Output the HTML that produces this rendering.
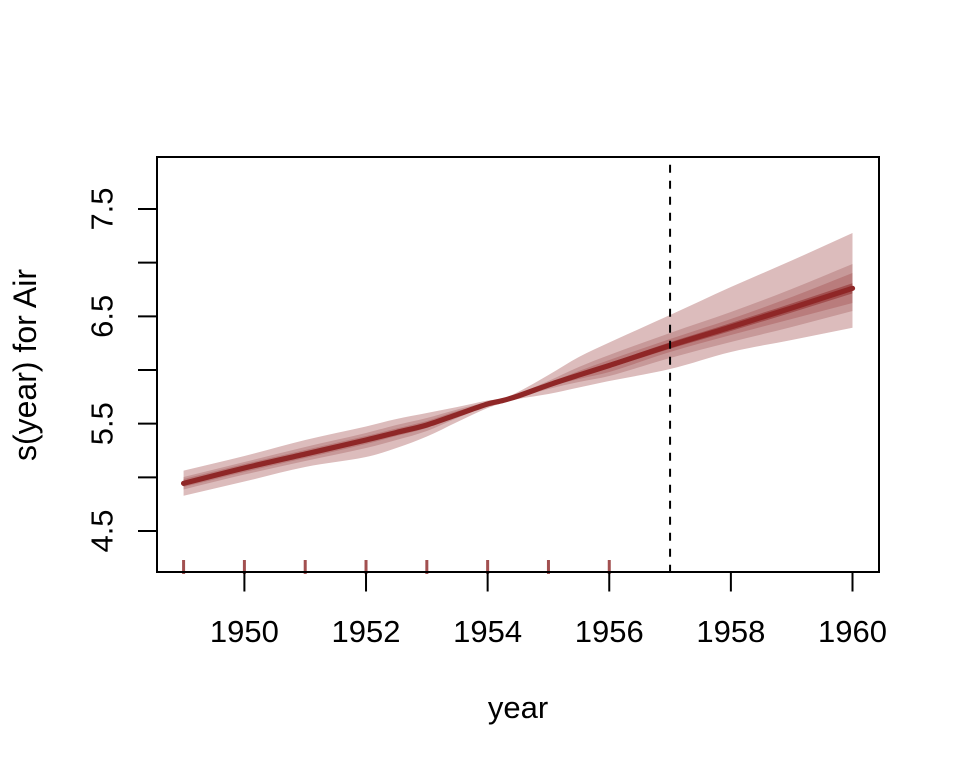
<!DOCTYPE html>
<html lang="en">
<head>
<meta charset="utf-8">
<title>s(year) for Air</title>
<style>
html,body{margin:0;padding:0;background:#fff;width:960px;height:768px;overflow:hidden}
svg{display:block}
text{font-family:"Liberation Sans",Arial,sans-serif;fill:#000}
</style>
</head>
<body>
<svg id="chart" xmlns="http://www.w3.org/2000/svg" width="960" height="768" viewBox="0 0 960 768"></svg>
<script>
const years = [1949,1950,1951,1952,1952.5,1953,1953.5,1954,1954.25,1954.5,1955,1955.5,1956,1957,1958,1959,1960];
const median = [4.944,5.087,5.217,5.348,5.418,5.488,5.585,5.683,5.716,5.758,5.860,5.953,6.042,6.228,6.401,6.578,6.761];
const outerUpper = [5.062,5.199,5.348,5.474,5.543,5.599,5.655,5.716,5.735,5.795,5.953,6.121,6.256,6.512,6.773,7.020,7.276];
const outerLower = [4.829,4.961,5.096,5.189,5.273,5.380,5.516,5.646,5.693,5.730,5.776,5.837,5.898,6.009,6.168,6.280,6.394];
const midUpper = [5.003,5.143,5.283,5.413,5.488,5.553,5.632,5.702,5.725,5.776,5.898,6.028,6.140,6.345,6.540,6.755,6.988];
const midLower = [4.887,5.026,5.152,5.273,5.348,5.432,5.553,5.665,5.702,5.739,5.823,5.888,5.944,6.112,6.261,6.401,6.550];
const innerUpper = [4.984,5.124,5.255,5.385,5.455,5.525,5.618,5.693,5.721,5.767,5.879,5.991,6.093,6.289,6.475,6.680,6.904];
const innerLower = [4.910,5.050,5.180,5.311,5.385,5.460,5.571,5.674,5.707,5.748,5.842,5.916,5.981,6.168,6.326,6.475,6.624];
const coreUpper = [4.962,5.105,5.235,5.366,5.436,5.506,5.603,5.695,5.724,5.766,5.874,5.971,6.065,6.258,6.438,6.620,6.808];
const coreLower = [4.926,5.069,5.199,5.330,5.400,5.470,5.567,5.675,5.708,5.750,5.846,5.935,6.019,6.198,6.364,6.536,6.714];
const rugYears = [1949,1950,1951,1952,1953,1954,1955,1956];
const xTickValues = [1950,1952,1954,1956,1958,1960];
const xTickLabels = ["1950","1952","1954","1956","1958","1960"];
const yTickValues = [4.5,5,5.5,6,6.5,7,7.5];
const yTickLabels = ["4.5","","5.5","","6.5","","7.5"];
const forecastStartYear = 1957;

const svg = document.getElementById('chart');
const NS = 'http://www.w3.org/2000/svg';
const plotLeft = 157, plotRight = 879, plotTop = 157, plotBottom = 572;
function xScale(v){ return 244.4 + (v - 1950) * 60.81; }
function yScale(v){ return 531 - (v - 4.5) * 107.33; }
function make(tag, attrs, parent){
  const el = document.createElementNS(NS, tag);
  for (const k in attrs) el.setAttribute(k, attrs[k]);
  (parent || svg).appendChild(el);
  return el;
}
/* Smooth curve through the data points (Catmull-Rom segments). */
function curve(xs, ys){
  let d = '';
  for (let i = 0; i < xs.length - 1; i++) {
    const x0 = xs[Math.max(i - 1, 0)], y0 = ys[Math.max(i - 1, 0)];
    const x1 = xs[i], y1 = ys[i], x2 = xs[i + 1], y2 = ys[i + 1];
    const x3 = xs[Math.min(i + 2, xs.length - 1)], y3 = ys[Math.min(i + 2, xs.length - 1)];
    const h = x2 - x1;
    const m1 = (y2 - y0) / ((x2 - x0) || 1);
    const m2 = (y3 - y1) / ((x3 - x1) || 1);
    d += ' C' + (x1 + h / 3).toFixed(2) + ' ' + (y1 + m1 * h / 3).toFixed(2) + ' ' +
         (x2 - h / 3).toFixed(2) + ' ' + (y2 - m2 * h / 3).toFixed(2) + ' ' +
         x2.toFixed(2) + ' ' + y2.toFixed(2);
  }
  return d;
}
function linePath(values){
  const xs = years.map(xScale), ys = values.map(yScale);
  return 'M' + xs[0].toFixed(2) + ' ' + ys[0].toFixed(2) + curve(xs, ys);
}
function bandPath(upper, lower){
  const xs = years.map(xScale);
  const top = upper.map(yScale);
  const bottom = lower.map(yScale);
  const rxs = xs.slice().reverse();
  const rbottom = bottom.slice().reverse();
  return 'M' + xs[0].toFixed(2) + ' ' + top[0].toFixed(2) + curve(xs, top) +
         ' L' + rxs[0].toFixed(2) + ' ' + rbottom[0].toFixed(2) + curve(rxs, rbottom) + ' Z';
}

const outerBand = make('path', {d: bandPath(outerUpper, outerLower), fill: '#DCBCBC'});


const midBand = make('path', {d: bandPath(midUpper, midLower), fill: '#C79999'});


const innerBand = make('path', {d: bandPath(innerUpper, innerLower), fill: '#B97C7C'});


const coreBand = make('path', {d: bandPath(coreUpper, coreLower), fill: '#A25050'});



const medianLine = make('path', {
  d: linePath(median),
  fill: 'none', stroke: '#8F2727', 'stroke-width': 5.2, 'stroke-linecap': 'round', 'stroke-linejoin': 'round'
});



rugYears.forEach(y => {
  const rug = make('line', {x1: xScale(y), x2: xScale(y), y1: 560, y2: 574, stroke: '#A25050', 'stroke-width': 3});
  
  
});

const forecastLine = make('line', {
  x1: xScale(forecastStartYear), x2: xScale(forecastStartYear), y1: 572.7, y2: plotTop,
  stroke: '#000', 'stroke-width': 2, 'stroke-dasharray': '8 8'
});



const frame = make('rect', {x: plotLeft, y: plotTop, width: plotRight - plotLeft, height: plotBottom - plotTop, fill: 'none', stroke: '#000', 'stroke-width': 2});



xTickValues.forEach((v, i) => {
  const tick = make('line', {x1: xScale(v), x2: xScale(v), y1: plotBottom, y2: 591.5, stroke: '#000', 'stroke-width': 2});
  
  
  const label = make('text', {x: xScale(v), y: 642, 'text-anchor': 'middle', 'font-size': 31});
  
  
  label.textContent = xTickLabels[i];
});

yTickValues.forEach((v, i) => {
  const tick = make('line', {x1: 138, x2: plotLeft, y1: yScale(v), y2: yScale(v), stroke: '#000', 'stroke-width': 2});
  
  
  if (yTickLabels[i]) {
    const label = make('text', {x: 0, y: 0, 'text-anchor': 'middle', 'font-size': 31, transform: 'translate(112.5,' + yScale(v) + ') rotate(-90)'});
    
    
    label.textContent = yTickLabels[i];
  }
});

const xTitle = make('text', {x: 518, y: 718, 'text-anchor': 'middle', 'font-size': 31});


xTitle.textContent = 'year';

const yTitle = make('text', {x: 0, y: 0, 'text-anchor': 'middle', 'font-size': 32, transform: 'translate(36,365) rotate(-90)'});


yTitle.textContent = 's(year) for Air';
</script>
</body>
</html>
